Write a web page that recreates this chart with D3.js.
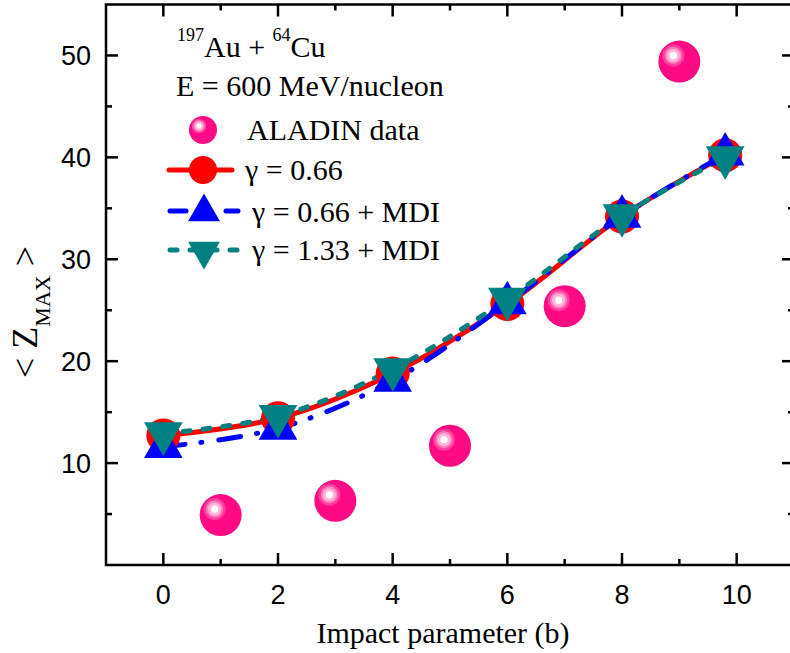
<!DOCTYPE html>
<html>
<head>
<meta charset="utf-8">
<script src="https://cdn.jsdelivr.net/npm/d3@7"></script>
<style>
  html, body { margin: 0; padding: 0; background: #fff; }
  svg { display: block; }
</style>
</head>
<body>
<svg id="chart" width="790" height="653"></svg>
<script>
// Impact parameter values (b, fm)
const impactB = [0, 2, 4, 6, 8, 9.8];
const aladinB = [1, 3, 5, 7, 9];
// <Z_max> series
const aladinZ = [4.9, 6.3, 11.7, 25.4, 49.4];
const gamma066 = [12.7, 14.4, 18.8, 25.6, 34.2, 40.2];
const gamma066MDI = [11.6, 13.4, 18.1, 25.7, 34.2, 40.3];
const gamma133MDI = [12.9, 14.6, 19.2, 26.1, 34.3, 40.0];
// axis ticks
const xTicks = [0, 2, 4, 6, 8, 10];
const xMinor = [1, 3, 5, 7, 9];
const yTicks = [10, 20, 30, 40, 50];
const yMinor = [5, 15, 25, 35, 45];

const svg = d3.select("#chart");
const x = d3.scaleLinear().domain([-1, 11]).range([106, 794]);
const y = d3.scaleLinear().domain([0, 55]).range([565, 4.5]);

const SANS = "'Liberation Sans', Arial, sans-serif";
const SERIF = "'Liberation Serif', 'Times New Roman', serif";

// glossy sphere: base disc plus concentric highlight discs
function sphere(g, cx, cy, r) {
  const s = r / 21;
  g.append("circle").attr("cx", cx).attr("cy", cy).attr("r", r).attr("fill", "#ff0a84");
  const hx = cx - 6 * s, hy = cy - 6 * s;
  g.append("circle").attr("cx", hx).attr("cy", hy).attr("r", 11 * s).attr("fill", "#ff3f9f");
  g.append("circle").attr("cx", hx).attr("cy", hy).attr("r", 8.5 * s).attr("fill", "#ff80c0");
  g.append("circle").attr("cx", hx).attr("cy", hy).attr("r", 6.5 * s).attr("fill", "#ffb8dc");
  g.append("circle").attr("cx", hx).attr("cy", hy).attr("r", 3.6 * s).attr("fill", "#ffffff");
}

const triUp = d3.symbol().type(d3.symbolTriangle);

// curves
const line = d3.line().x(d => x(d[0])).y(d => y(d[1])).curve(d3.curveCatmullRom.alpha(0.5));
const series = [
  { vals: gamma066, color: "#ff0000", dash: null },
  { vals: gamma066MDI, color: "#0000ff", dash: "22,16,1,17" },
  { vals: gamma133MDI, color: "#008080", dash: "7,13" }
];
const gLines = svg.append("g");
series.forEach(s => {
  gLines.append("path")
    .attr("d", line(impactB.map((b, i) => [b, s.vals[i]])))
    .attr("fill", "none")
    .attr("stroke", s.color)
    .attr("stroke-width", 5)
    .attr("stroke-linecap", "round")
    .attr("stroke-dasharray", s.dash);
});

// markers
const gMarks = svg.append("g");
impactB.forEach((b, i) => {
  gMarks.append("circle").attr("cx", x(b)).attr("cy", y(gamma066[i])).attr("r", 17).attr("fill", "#ff0000");
});
impactB.forEach((b, i) => {
  gMarks.append("path").attr("d", triUp.size(650)())
    .attr("transform", `translate(${x(b)},${y(gamma066MDI[i])})`).attr("fill", "#0000ff");
});
impactB.forEach((b, i) => {
  gMarks.append("path").attr("d", triUp.size(650)())
    .attr("transform", `translate(${x(b)},${y(gamma133MDI[i])}) rotate(180)`).attr("fill", "#008080");
});

// ALADIN data
const gData = svg.append("g");
aladinB.forEach((b, i) => sphere(gData, x(b), y(aladinZ[i]), 21));

// frame and ticks
const frame = svg.append("g").attr("stroke", "#000").attr("stroke-width", 2.5).attr("fill", "none");
frame.append("rect").attr("x", x(-1)).attr("y", y(55)).attr("width", x(11) - x(-1)).attr("height", y(0) - y(55));
xTicks.forEach(t => {
  frame.append("line").attr("x1", x(t)).attr("x2", x(t)).attr("y1", y(0)).attr("y2", y(0) - 12);
  frame.append("line").attr("x1", x(t)).attr("x2", x(t)).attr("y1", y(55)).attr("y2", y(55) + 12);
});
xMinor.forEach(t => {
  frame.append("line").attr("x1", x(t)).attr("x2", x(t)).attr("y1", y(0)).attr("y2", y(0) - 6);
  frame.append("line").attr("x1", x(t)).attr("x2", x(t)).attr("y1", y(55)).attr("y2", y(55) + 6);
});
yTicks.forEach(t => {
  frame.append("line").attr("x1", x(-1)).attr("x2", x(-1) + 12).attr("y1", y(t)).attr("y2", y(t));
  frame.append("line").attr("x1", x(11)).attr("x2", x(11) - 12).attr("y1", y(t)).attr("y2", y(t));
});
yMinor.forEach(t => {
  frame.append("line").attr("x1", x(-1)).attr("x2", x(-1) + 6).attr("y1", y(t)).attr("y2", y(t));
  frame.append("line").attr("x1", x(11)).attr("x2", x(11) - 6).attr("y1", y(t)).attr("y2", y(t));
});

// tick labels
svg.append("g").selectAll("text").data(xTicks).join("text")
  .attr("x", d => x(d)).attr("y", 604).attr("text-anchor", "middle")
  .attr("font-family", SANS).attr("font-size", 27).text(d => d);
svg.append("g").selectAll("text").data(yTicks).join("text")
  .attr("x", 91).attr("y", d => y(d) + 10).attr("text-anchor", "end")
  .attr("font-family", SANS).attr("font-size", 27).text(d => d);

// axis titles
svg.append("text").attr("x", 443).attr("y", 643).attr("text-anchor", "middle")
  .attr("font-family", SERIF).attr("font-size", 30).text("Impact parameter (b)");

const yt = svg.append("text").attr("transform", "translate(37,312) rotate(-90)")
  .attr("text-anchor", "middle").attr("font-family", SERIF).attr("font-size", 36);
yt.append("tspan").text("< Z");
yt.append("tspan").attr("font-size", 22).attr("dy", 13).text("MAX");
yt.append("tspan").attr("dy", -13).text(" >");

// annotation
const t1 = svg.append("text").attr("x", 177).attr("y", 57).attr("font-family", SERIF).attr("font-size", 30);
t1.append("tspan").attr("font-size", 18).attr("dy", -16).text("197");
t1.append("tspan").attr("dy", 16).text("Au + ");
t1.append("tspan").attr("font-size", 18).attr("dy", -16).text("64");
t1.append("tspan").attr("dy", 16).text("Cu");
svg.append("text").attr("x", 176).attr("y", 96).attr("font-family", SERIF).attr("font-size", 30)
  .text("E = 600 MeV/nucleon");

// legend
const lg = svg.append("g");
sphere(lg, 203, 130, 14);
lg.append("text").attr("x", 247).attr("y", 140).attr("font-family", SERIF).attr("font-size", 30).text("ALADIN data");

lg.append("line").attr("x1", 169).attr("x2", 232).attr("y1", 170).attr("y2", 170)
  .attr("stroke", "#ff0000").attr("stroke-width", 5).attr("stroke-linecap", "round");
lg.append("circle").attr("cx", 203).attr("cy", 170).attr("r", 14).attr("fill", "#ff0000");
lg.append("text").attr("x", 245).attr("y", 180).attr("font-family", SERIF).attr("font-size", 30).text("γ = 0.66");

lg.append("line").attr("x1", 170).attr("x2", 238).attr("y1", 211).attr("y2", 211)
  .attr("stroke", "#0000ff").attr("stroke-width", 5).attr("stroke-linecap", "round")
  .attr("stroke-dasharray", "16,40,13,40");
lg.append("path").attr("d", triUp.size(440)()).attr("transform", "translate(204,212)").attr("fill", "#0000ff");
lg.append("text").attr("x", 252).attr("y", 222).attr("font-family", SERIF).attr("font-size", 30).text("γ = 0.66 + MDI");

lg.append("line").attr("x1", 170).attr("x2", 238).attr("y1", 250).attr("y2", 250)
  .attr("stroke", "#008080").attr("stroke-width", 5).attr("stroke-linecap", "round")
  .attr("stroke-dasharray", "7,13");
lg.append("path").attr("d", triUp.size(440)()).attr("transform", "translate(204,251) rotate(180)").attr("fill", "#008080");
lg.append("text").attr("x", 252).attr("y", 260).attr("font-family", SERIF).attr("font-size", 30).text("γ = 1.33 + MDI");
</script>
</body>
</html>
